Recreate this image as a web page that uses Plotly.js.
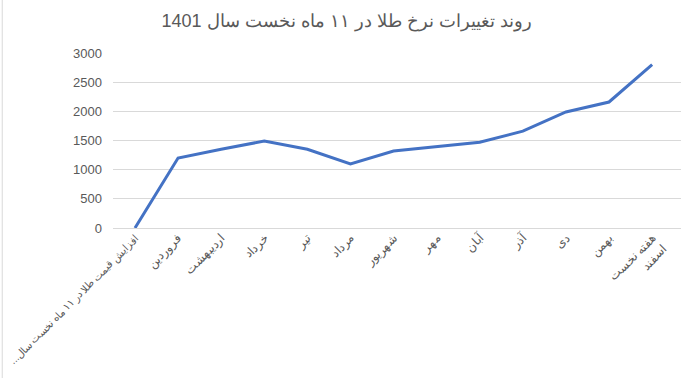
<!DOCTYPE html>
<html>
<head>
<meta charset="utf-8">
<script src="https://cdn.plot.ly/plotly-3.0.1.min.js"></script>
<style>html,body{margin:0;padding:0;background:#fff;}</style>
</head>
<body>
<div id="chart" style="width:693px;height:378px;"></div>
<script>
const categories = [
  "...افزایش قیمت طلا در ۱۱ ماه نخست سال",
  "فروردین", "اردیبهشت", "خرداد", "تیر", "مرداد", "شهریور",
  "مهر", "آبان", "آذر", "دی", "بهمن", "هفته نخست<br>اسفند"
];
const values = [0, 1200, 1350, 1490, 1350, 1100, 1320, 1390, 1470, 1660, 1990, 2160, 2800];
const yTicks = [0, 500, 1000, 1500, 2000, 2500, 3000];

const trace = {
  x: categories.map((c, i) => i),
  y: values,
  type: 'scatter',
  mode: 'lines',
  line: {color: '#4472C4', width: 3},
  hoverinfo: 'skip'
};

const layout = {
  width: 693, height: 378,
  margin: {l: 113, r: 12, t: 53, b: 150},
  paper_bgcolor: '#fff', plot_bgcolor: '#fff',
  font: {family: 'Liberation Sans, Arial, sans-serif', color: '#595959', size: 12},
  title: {
    text: 'روند تغییرات نرخ طلا در ۱۱ ماه نخست سال 1401',
    font: {family: 'Liberation Sans, Arial, sans-serif', size: 18, color: '#595959'},
    x: 0.5, xanchor: 'center', xref: 'container',
    y: 0.945, yanchor: 'middle', yref: 'container'
  },
  xaxis: {
    type: 'linear',
    tickmode: 'array',
    tickvals: categories.map((c, i) => i),
    ticktext: categories.map((c, i) => i === 0 ? '<span style="font-size:10.3px">' + c + '</span>' : c),
    range: [-0.51, 12.67],
    tickangle: -45,
    ticklabeloverflow: 'allow',
    showgrid: false, zeroline: false, showline: false,
    ticks: '', tickfont: {size: 12, color: '#595959'},
    fixedrange: true
  },
  yaxis: {
    range: [0, 3000],
    tickmode: 'array', tickvals: yTicks,
    ticktext: yTicks.map(String),
    showgrid: true, gridcolor: '#d9d9d9', gridwidth: 1,
    zeroline: true, zerolinecolor: '#d9d9d9', zerolinewidth: 1,
    showline: false, ticks: '', ticklabelstandoff: 10,
    tickfont: {size: 13, color: '#595959'},
    fixedrange: true
  },
  shapes: [{
    type: 'line', xref: 'paper', yref: 'paper', x0: -0.195, x1: -0.195, y0: -0.9, y1: 1.4,
    line: {color: '#d9d9d9', width: 1}, layer: 'below'
  }],
  showlegend: false
};

Plotly.newPlot('chart', [trace], layout, {displayModeBar: false, staticPlot: true});
</script>
</body>
</html>
